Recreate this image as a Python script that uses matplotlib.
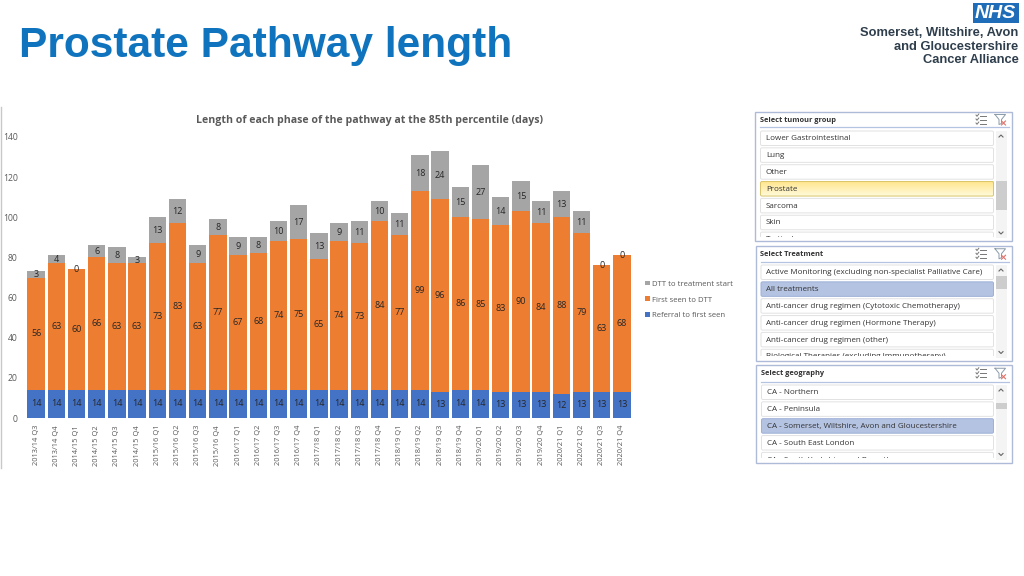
import matplotlib
matplotlib.use("Agg")
import matplotlib.pyplot as plt
import numpy as np
from matplotlib.patches import Rectangle, FancyBboxPatch

quarters = ["2013/14 Q3", "2013/14 Q4", "2014/15 Q1", "2014/15 Q2", "2014/15 Q3", "2014/15 Q4",
            "2015/16 Q1", "2015/16 Q2", "2015/16 Q3", "2015/16 Q4", "2016/17 Q1", "2016/17 Q2",
            "2016/17 Q3", "2016/17 Q4", "2017/18 Q1", "2017/18 Q2", "2017/18 Q3", "2017/18 Q4",
            "2018/19 Q1", "2018/19 Q2", "2018/19 Q3", "2018/19 Q4", "2019/20 Q1", "2019/20 Q2",
            "2019/20 Q3", "2019/20 Q4", "2020/21 Q1", "2020/21 Q2", "2020/21 Q3", "2020/21 Q4"]
referral = [14, 14, 14, 14, 14, 14, 14, 14, 14, 14, 14, 14, 14, 14, 14, 14, 14, 14,
            14, 14, 13, 14, 14, 13, 13, 13, 12, 13, 13, 13]
first_seen = [56, 63, 60, 66, 63, 63, 73, 83, 63, 77, 67, 68, 74, 75, 65, 74, 73, 84,
              77, 99, 96, 86, 85, 83, 90, 84, 88, 79, 63, 68]
dtt = [3, 4, 0, 6, 8, 3, 13, 12, 9, 8, 9, 8, 10, 17, 13, 9, 11, 10,
       11, 18, 24, 15, 27, 14, 15, 11, 13, 11, 0, 0]
series_names = ["Referral to first seen", "First seen to DTT", "DTT to treatment start"]
slide_title = "Prostate Pathway length"
chart_title = "Length of each phase of the pathway at the 85th percentile (days)"
logo_lines = ["Somerset, Wiltshire, Avon", "and Gloucestershire", "Cancer Alliance"]
tumour_title = "Select tumour group"
tumour_items = ["Lower Gastrointestinal", "Lung", "Other", "Prostate", "Sarcoma", "Skin", "Testicular"]
treatment_title = "Select Treatment"
treatment_items = ["Active Monitoring (excluding non-specialist Palliative Care)", "All treatments",
                   "Anti-cancer drug regimen (Cytotoxic Chemotherapy)",
                   "Anti-cancer drug regimen (Hormone Therapy)", "Anti-cancer drug regimen (other)",
                   "Biological Therapies (excluding Immunotherapy)"]
geo_title = "Select geography"
geo_items = ["CA - Northern", "CA - Peninsula", "CA - Somerset, Wiltshire, Avon and Gloucestershire",
             "CA - South East London", "CA - South Yorkshire and Bassetlaw"]

plt.rcParams["font.family"] = ["Open Sans", "DejaVu Sans"]
W, H = 1024, 576
fig = plt.figure(figsize=(W / 100, H / 100), dpi=100, facecolor="white")

# pixel-space overlay for slide furniture
pa = fig.add_axes([0, 0, 1, 1], zorder=0)
pa.set_xlim(0, W)
pa.set_ylim(H, 0)
pa.axis("off")

pa.text(19, 45.5, slide_title, family="Liberation Sans", weight="bold", fontsize=30.6,
        color="#0F74BD", va="center", ha="left")

# logo
pa.add_patch(Rectangle((973, 3), 45.5, 20, fc="#1F6DB8", ec="none"))
pa.text(995.7, 13.5, "NHS", family="Liberation Sans", weight="bold", style="italic", fontsize=14,
        color="white", ha="center", va="center")
for line, y in zip(logo_lines, [33.5, 46.5, 60]):
    pa.text(1018.5, y, line, family="Liberation Sans", weight="bold", fontsize=9.3,
            color="#2F3E4C", ha="right", va="center")

# chart image edge
pa.plot([1, 1], [107, 468], color="#c8c8c8", lw=1)

# chart
x0, x1 = 26, 632
y_top, y_bot = 137, 418
ax = fig.add_axes([x0 / W, 1 - y_bot / H, (x1 - x0) / W, (y_bot - y_top) / H], zorder=1)
ax.patch.set_alpha(0)
x = np.arange(len(quarters))
r = np.array(referral)
f = np.array(first_seen)
d = np.array(dtt)
bw = 0.86
b1 = ax.bar(x, r, bw, color="#4472C4", label=series_names[0])
b2 = ax.bar(x, f, bw, bottom=r, color="#ED7D31", label=series_names[1])
b3 = ax.bar(x, d, bw, bottom=r + f, color="#A5A5A5", label=series_names[2])
for b in (b1, b2, b3):
    ax.bar_label(b, label_type="center", fontsize=6.5, color="#262626")
ax.set_xlim(-0.5, len(quarters) - 0.5)
ax.set_ylim(0, 140)
ax.set_yticks(range(0, 141, 20))
ax.set_xticks(x, quarters, rotation=90)
ax.tick_params(axis="both", length=0, colors="#595959", labelsize=5.4)
ax.tick_params(axis="y", pad=6, labelsize=6.2)
ax.tick_params(axis="x", pad=5)
for s in ax.spines.values():
    s.set_visible(False)

pa.text(370, 120.5, chart_title, weight="bold", fontsize=7.6, color="#595959", ha="center", va="center")

h, l = ax.get_legend_handles_labels()
fig.legend(h[::-1], l[::-1], loc="upper left", bbox_to_anchor=(645 / W, 1 - 280.5 / H), frameon=False,
           fontsize=5.55, labelcolor="#595959", handlelength=0.62, handleheight=0.62, handletextpad=0.3,
           labelspacing=1.12, borderpad=0, borderaxespad=0)


def panel(left, top, right, bottom, header_y, first_top, title, items, selected, sel_style, thumb):
    pa.add_patch(Rectangle((left, top), right - left, bottom - top, fc="white", ec="#AEBBD8", lw=1.0))
    pa.plot([left + 5, right - 3], [header_y, header_y], color="#B4C3E2", lw=0.9)
    pa.text(left + 5, (top + header_y) / 2 + 0.5, title, weight="bold", fontsize=5.3, color="#333333", va="center")
    clip = Rectangle((left, top), right - left, bottom - 4.5 - top, transform=pa.transData)
    ix0, ix1 = left + 5.5, 993.5
    for i, item in enumerate(items):
        yt = first_top + i * 16.85
        if i == selected:
            fc = "#B4C3E2" if sel_style == "blue" else "none"
            ec = "#9DB0D8" if sel_style == "blue" else "#D9C46A"
        else:
            fc, ec = "white", "#E2E2E2"
        p = FancyBboxPatch((ix0, yt), ix1 - ix0, 14.5, boxstyle="round,pad=0,rounding_size=1.5",
                           fc=fc, ec=ec, lw=0.7, zorder=2)
        pa.add_patch(p)
        p.set_clip_path(clip)
        if i == selected and sel_style == "yellow":
            grad = np.linspace(0, 1, 32)[:, None, None]
            top_c = np.array([1.0, 0.90, 0.55])
            bot_c = np.array([1.0, 0.98, 0.86])
            im = pa.imshow(top_c + (bot_c - top_c) * grad, extent=(ix0, ix1, yt + 14.5, yt), aspect="auto", zorder=1.9)
            im.set_clip_path(clip)
            pa.set_xlim(0, W)
            pa.set_ylim(H, 0)
        t = pa.text(ix0 + 5.5, yt + 7.6, item, fontsize=5.8, color="#333333", va="center", zorder=3)
        t.set_clip_on(True)
        t.set_clip_path(clip)
    # scroll bar
    sx0, sx1 = 995.5, 1006.5
    pa.add_patch(Rectangle((sx0, first_top), sx1 - sx0, bottom - first_top - 3, fc="#F4F4F4", ec="none"))
    pa.add_patch(Rectangle((sx0, thumb[0]), sx1 - sx0, thumb[1] - thumb[0], fc="#CDCDCD", ec="none"))
    cx = (sx0 + sx1) / 2
    pa.plot([cx - 2, cx, cx + 2], [first_top + 6, first_top + 4, first_top + 6], color="#666666", lw=0.8)
    pa.plot([cx - 2, cx, cx + 2], [bottom - 9, bottom - 7, bottom - 9], color="#666666", lw=0.8)
    # multi-select icon
    ic = 976
    iy = (top + header_y) / 2
    for dy in (-4, 0, 4):
        pa.plot([ic + 3.5, ic + 10], [iy + dy, iy + dy], color="#777777", lw=0.7)
        pa.plot([ic, ic + 1, ic + 2.8], [iy + dy - 0.5, iy + dy + 0.8, iy + dy - 1.5], color="#777777", lw=0.7)
    # clear-filter icon
    fx = 995
    pa.plot([fx, fx + 10.5, fx + 6.5, fx + 6.5, fx + 4, fx + 4, fx],
            [iy - 5, iy - 5, iy, iy + 4, iy + 5, iy, iy - 5], color="#8A9BA8", lw=0.7)
    pa.plot([fx + 6.5, fx + 10.5], [iy + 1.5, iy + 5.5], color="#E0706A", lw=0.8)
    pa.plot([fx + 10.5, fx + 6.5], [iy + 1.5, iy + 5.5], color="#E0706A", lw=0.8)


panel(755, 112, 1011.5, 241, 127, 131, tumour_title, tumour_items, 3, "yellow", (181, 210))
panel(755.5, 246, 1011.5, 360.5, 261.5, 265, treatment_title, treatment_items, 1, "blue", (275.5, 289))
panel(756, 365, 1011.5, 462.5, 381.5, 385, geo_title, geo_items, 2, "blue", (403, 409))

fig.savefig("out.png", dpi=100)
